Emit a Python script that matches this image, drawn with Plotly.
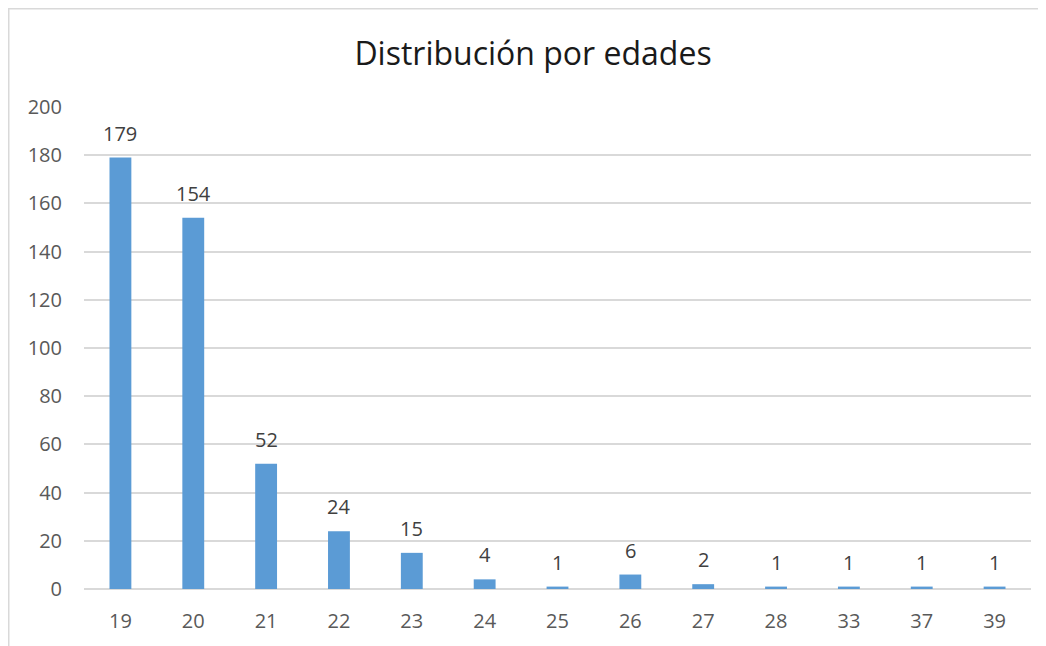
import plotly.graph_objects as go

edades = ["19", "20", "21", "22", "23", "24", "25", "26", "27", "28", "33", "37", "39"]
cantidad = [179, 154, 52, 24, 15, 4, 1, 6, 2, 1, 1, 1, 1]
y_ticks = [0, 20, 40, 60, 80, 100, 120, 140, 160, 180, 200]

# page body has an 8px margin: figure occupies x 8..1046, y 8..646 of the window
W, H = 1038, 638
L, R, T, B = 76, 15, 99, 57
pw, ph = W - L - R, H - T - B

fig = go.Figure(go.Bar(
    x=edades, y=cantidad,
    marker=dict(color="#5B9BD5", line=dict(width=0)),
    hoverinfo="x+y",
))

for i, c in enumerate(cantidad):
    fig.add_annotation(x=i, y=c, text=str(c), showarrow=False,
                       yanchor="bottom", yshift=9,
                       font=dict(family="Open Sans", size=20, color="#404040"))

fig.update_layout(
    width=W, height=H,
    margin=dict(l=L, r=R, t=T, b=B, autoexpand=False),
    paper_bgcolor="white", plot_bgcolor="white",
    bargap=0.7,
    showlegend=False,
    title=dict(text="Distribución por edades", x=(533 - 8) / W, xanchor="center",
               y=1 - (54 - 8) / H, yanchor="middle",
               font=dict(family="Open Sans", size=32, color="#1a1a1a")),
    xaxis=dict(type="category", range=[-0.5, len(edades) - 0.5],
               showgrid=False, showline=False, ticks="",
               ticklabelstandoff=18,
               tickfont=dict(family="Open Sans", size=20, color="#595959")),
    yaxis=dict(range=[0, 200], tickvals=y_ticks, showgrid=True,
               gridcolor="#D9D9D9", gridwidth=1.5, zeroline=True,
               zerolinecolor="#D9D9D9", zerolinewidth=1.5, showline=False,
               ticks="", ticklabelstandoff=21,
               tickfont=dict(family="Open Sans", size=20, color="#595959")),
    shapes=[
        dict(type="line", xref="paper", yref="paper",
             x0=(0 - L) / pw, x1=(W + 5 - L) / pw,
             y0=1 + (T - 0.75) / ph, y1=1 + (T - 0.75) / ph,
             line=dict(color="#D9D9D9", width=1.5)),
        dict(type="line", xref="paper", yref="paper",
             x0=(0.75 - L) / pw, x1=(0.75 - L) / pw,
             y0=1 + T / ph, y1=-(B + 5) / ph,
             line=dict(color="#D9D9D9", width=1.5)),
    ],
)

fig.write_html("out.html")
